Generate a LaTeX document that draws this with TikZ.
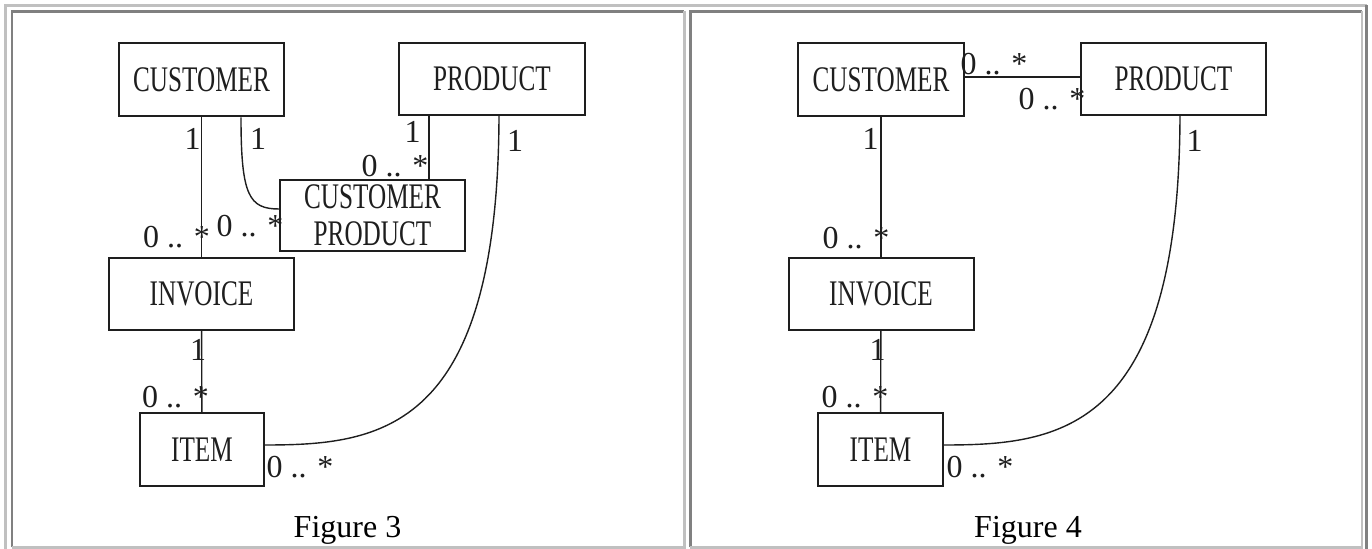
\documentclass[tikz,border=0pt]{standalone}
\usepackage{fontspec}
\setmainfont{Liberation Serif}
\newfontfamily\narrowserif[FakeStretch=0.70]{Liberation Serif}
\definecolor{LightEdge}{RGB}{192,192,192}
\definecolor{DarkEdge}{RGB}{128,128,128}
\definecolor{Ink}{RGB}{30,30,30}
\tikzset{
  classbox/.style={draw=Ink, line width=1pt, minimum width=#1, minimum height=36.5pt,
    inner sep=0pt, align=center, text=Ink, font=\narrowserif\fontsize{18}{18.5}\selectfont},
  classbox/.default=92.5pt,
  assocline/.style={draw=Ink, line width=0.7pt},
  multlabel/.style={anchor=base, inner sep=0pt, text=Ink, font=\fontsize{16}{16}\selectfont},
  figcaption/.style={anchor=base, inner sep=0pt, font=\fontsize{16}{16}\selectfont},
  lightedge/.style={draw=LightEdge, line width=1.35pt},
  darkedge/.style={draw=DarkEdge, line width=1.35pt},
}

\begin{document}
\begin{tikzpicture}[x=0.5pt, y=-0.5pt]
  \useasboundingbox (0,0) rectangle (1372,549);
  % ---- table frame and the two cells ----
  \draw[lightedge] (5.5,549) -- (5.5,5.5) -- (1366.5,5.5);
  \draw[darkedge] (1366.5,5.5) -- (1366.5,549);
  \draw[darkedge] (12,547.3) -- (12,11.3) -- (684.2,11.3);
  \draw[lightedge] (684.2,11.3) -- (684.2,547.3) -- (12,547.3);
  \draw[darkedge] (690.2,547.3) -- (690.2,11.3) -- (1362,11.3);
  \draw[lightedge] (1362,11.3) -- (1362,547.3) -- (690.2,547.3);

  % ---- Figure 3 ----
  \node[classbox=82.5pt] (custA) at (201.5,80) {CUSTOMER};
  \node[classbox=93pt, minimum height=36pt] (prodA) at (492,79) {PRODUCT};
  \node[classbox, minimum height=35.5pt] (cpA) at (372.5,215.5) {CUSTOMER\\PRODUCT};
  \node[classbox, minimum height=36pt] (invA) at (201.5,294) {INVOICE};
  \node[classbox=62pt] (itemA) at (202,449.5) {ITEM};
  \draw[assocline] (custA) -- (invA);
  \draw[assocline] (invA) -- (itemA);
  \draw[assocline] ([xshift=19.75pt]custA.south) .. controls +(0,78) and +(-30,0) .. ([yshift=3.25pt]cpA.west);
  \draw[assocline] ([xshift=-31.5pt]prodA.south) -- ([xshift=-31.5pt]prodA.south |- cpA.north);
  \draw[assocline] ([xshift=3.5pt]prodA.south) .. controls +(-1,315) and +(116,0) .. ([yshift=2.25pt]itemA.east);
  \node[multlabel] (m3a) at (192.5,150) {1};
  \node[multlabel] (m3b) at (258,150) {1};
  \node[multlabel] (m3c) at (412.5,143) {1};
  \node[multlabel] (m3d) at (395,177) {0 .. *};
  \node[multlabel] (m3e) at (250,237) {0 .. *};
  \node[multlabel] (m3f) at (176.5,248) {0 .. *};
  \node[multlabel] (m3g) at (198,361) {1};
  \node[multlabel] (m3h) at (175.5,408) {0 .. *};
  \node[multlabel] (m3i) at (515,152) {1};
  \node[multlabel] (m3j) at (300,478) {0 .. *};
  \node[figcaption] (cap3) at (347.5,537.5) {Figure 3};

  % ---- Figure 4 ----
  \node[classbox=83pt] (custB) at (881,80) {CUSTOMER};
  \node[classbox=92.5pt, minimum height=36pt] (prodB) at (1173.5,79) {PRODUCT};
  \node[classbox, minimum height=36pt] (invB) at (881,294) {INVOICE};
  \node[classbox=62.5pt] (itemB) at (880.5,449.5) {ITEM};
  \draw[assocline] ([yshift=1.5pt]custB.east) -- ([yshift=1.5pt]custB.east -| prodB.west);
  \draw[assocline] (custB) -- (invB);
  \draw[assocline] (invB) -- (itemB);
  \draw[assocline] ([xshift=3.25pt]prodB.south) .. controls +(-1,315) and +(116,0) .. ([yshift=2.25pt]itemB.east);
  \node[multlabel] (m4a) at (994,75) {0 .. *};
  \node[multlabel] (m4b) at (1052,110) {0 .. *};
  \node[multlabel] (m4c) at (870.5,150) {1};
  \node[multlabel] (m4d) at (856,249) {0 .. *};
  \node[multlabel] (m4e) at (877.5,361) {1};
  \node[multlabel] (m4f) at (855,408) {0 .. *};
  \node[multlabel] (m4g) at (1194.5,152) {1};
  \node[multlabel] (m4h) at (980,478) {0 .. *};
  \node[figcaption] (cap4) at (1028,537.5) {Figure 4};
\end{tikzpicture}
\end{document}
